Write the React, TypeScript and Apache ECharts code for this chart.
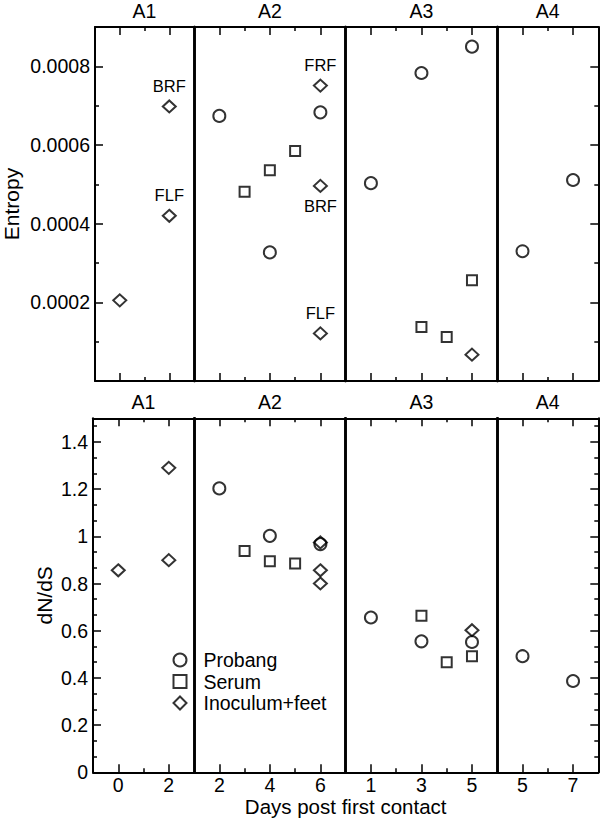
import React, { useEffect, useRef } from 'react';
import * as echarts from 'echarts';

// ---- groups / x axis ----
const groups = ['A1', 'A2', 'A3', 'A4'];
const groupMin = [-1, 1, 0, 4];
const groupMax = [3, 7, 6, 8];
const xMajor = [[0, 2], [2, 4, 6], [1, 3, 5], [5, 7]];
const xMinor = [[1], [3, 5], [2, 4], [6]];
const xTitle = 'Days post first contact';

const seriesNames = ['Probang', 'Serum', 'Inoculum+feet'];

// ---- Entropy panel ----
const entYMajor = [0.0002, 0.0004, 0.0006, 0.0008];
const entYMinor = [0.0001, 0.0003, 0.0005, 0.0007];
const entProbangDays = [[], [2, 4, 6], [1, 3, 5], [5, 7]];
const entProbangVals = [[], [0.000674, 0.000327, 0.000683], [0.000503, 0.000783, 0.00085], [0.00033, 0.000511]];
const entSerumDays = [[], [3, 4, 5], [3, 4, 5], []];
const entSerumVals = [[], [0.000481, 0.000536, 0.000585], [0.000137, 0.000112, 0.000256], []];
const entInocDays = [[0, 2, 2], [6, 6, 6], [5], []];
const entInocVals = [[0.000205, 0.000698, 0.00042], [0.000751, 0.000496, 0.000121], [0.000067], []];
const entInocTags = [['', 'BRF', 'FLF'], ['FRF', 'BRF', 'FLF'], [''], []];
const entInocTagPos = [['top', 'top', 'top'], ['top', 'bottom', 'top'], ['top'], []];

// ---- dN/dS panel ----
const dnYMajor = [0, 0.2, 0.4, 0.6, 0.8, 1, 1.2, 1.4];
const dnYMinor = [0.0667, 0.1333, 0.2667, 0.3333, 0.4667, 0.5333, 0.6667, 0.7333, 0.8667, 0.9333, 1.0667, 1.1333, 1.2667, 1.3333, 1.4667];
const dnProbangDays = [[], [2, 4, 6], [1, 3, 5], [5, 7]];
const dnProbangVals = [[], [1.203, 1.002, 0.967], [0.656, 0.555, 0.552], [0.492, 0.387]];
const dnSerumDays = [[], [3, 4, 5], [3, 4, 5], []];
const dnSerumVals = [[], [0.938, 0.894, 0.885], [0.663, 0.466, 0.492], []];
const dnInocDays = [[0, 2, 2], [6, 6, 6], [5], []];
const dnInocVals = [[0.856, 1.29, 0.899], [0.974, 0.856, 0.8], [0.602], []];

const FONT = '"Liberation Sans", Arial, Helvetica, sans-serif';
const PLOT_LEFT = 93;
const PLOT_RIGHT = 598.3;
const PANEL_H = 354;

function buildOption() {
  const totalUnits = groupMax.reduce((s, m, i) => s + (m - groupMin[i]), 0);
  const unit = (PLOT_RIGHT - PLOT_LEFT) / totalUnits;
  const grids: any[] = [];
  const xAxes: any[] = [];
  const yAxes: any[] = [];
  const series: any[] = [];

  const panels = [
    {
      top: 27, yMin: 0, yMax: 0.0009, yMajor: entYMajor, yMinor: entYMinor,
      fmt: (v: number) => v.toFixed(4), yName: 'Entropy', yNameGap: 73, showX: false,
      probD: entProbangDays, probV: entProbangVals, serD: entSerumDays, serV: entSerumVals,
      inD: entInocDays, inV: entInocVals, tags: entInocTags, tagPos: entInocTagPos,
    },
    {
      top: 418.3, yMin: 0, yMax: 1.5, yMajor: dnYMajor, yMinor: dnYMinor,
      fmt: (v: number) => String(Number(v.toFixed(1))), yName: 'dN/dS', yNameGap: 38, showX: true,
      probD: dnProbangDays, probV: dnProbangVals, serD: dnSerumDays, serV: dnSerumVals,
      inD: dnInocDays, inV: dnInocVals, tags: null as any, tagPos: null as any,
    },
  ];

  const black = '#000';
  const tickStyle = { color: black, width: 1.5 };

  panels.forEach((pn) => {
    let cum = 0;
    groups.forEach((gname, g) => {
      const span = groupMax[g] - groupMin[g];
      const gi = grids.length;
      grids.push({ left: PLOT_LEFT + cum * unit, width: span * unit, top: pn.top, height: PANEL_H });
      cum += span;
      const xb = { gridIndex: gi, type: 'value', min: groupMin[g], max: groupMax[g], splitLine: { show: false } };
      const xMain = xAxes.length;
      xAxes.push({
        ...xb, position: 'bottom',
        axisLine: { show: true, onZero: false, lineStyle: { color: black, width: 2 } },
        axisTick: { show: true, inside: true, length: 8, customValues: xMajor[g], lineStyle: tickStyle },
        axisLabel: {
          show: pn.showX, customValues: xMajor[g], color: black, fontSize: 19.5,
          fontFamily: FONT, margin: 4, lineHeight: 17,
        },
      });
      xAxes.push({
        ...xb, position: 'bottom',
        axisLine: { show: false, onZero: false },
        axisTick: { show: true, inside: true, length: 4, customValues: xMinor[g], lineStyle: tickStyle },
        axisLabel: { show: false },
      });
      xAxes.push({
        ...xb, position: 'top',
        axisLine: { show: true, onZero: false, lineStyle: { color: black, width: 2 } },
        axisTick: { show: true, inside: true, length: 8, customValues: xMajor[g], lineStyle: tickStyle },
        axisLabel: { show: false },
        name: gname, nameLocation: 'middle', nameGap: 6,
        nameTextStyle: { color: black, fontSize: 19.5, fontFamily: FONT, verticalAlign: 'bottom' },
      });
      xAxes.push({
        ...xb, position: 'top',
        axisLine: { show: false, onZero: false },
        axisTick: { show: true, inside: true, length: 4, customValues: xMinor[g], lineStyle: tickStyle },
        axisLabel: { show: false },
      });

      const yb = { gridIndex: gi, type: 'value', min: pn.yMin, max: pn.yMax, splitLine: { show: false } };
      const yMain = yAxes.length;
      const leftOuter = g === 0;
      const rightOuter = g === groups.length - 1;
      yAxes.push({
        ...yb, position: 'left',
        axisLine: { show: true, onZero: false, lineStyle: { color: black, width: leftOuter ? 2 : 2.6 } },
        axisTick: { show: leftOuter, inside: true, length: 8, customValues: pn.yMajor, lineStyle: tickStyle },
        axisLabel: {
          show: leftOuter, customValues: pn.yMajor, formatter: pn.fmt,
          color: black, fontSize: 19.5, fontFamily: FONT, margin: 5,
        },
        name: leftOuter ? pn.yName : '', nameLocation: 'middle', nameGap: pn.yNameGap,
        nameTextStyle: { color: black, fontSize: 21, fontFamily: FONT },
      });
      yAxes.push({
        ...yb, position: 'right',
        axisLine: { show: true, onZero: false, lineStyle: { color: black, width: rightOuter ? 2 : 2.6 } },
        axisTick: { show: rightOuter, inside: true, length: 8, customValues: pn.yMajor, lineStyle: tickStyle },
        axisLabel: { show: false },
      });
      if (leftOuter) {
        yAxes.push({
          ...yb, position: 'left', axisLine: { show: false, onZero: false },
          axisTick: { show: true, inside: true, length: 4, customValues: pn.yMinor, lineStyle: tickStyle },
          axisLabel: { show: false },
        });
      }
      if (rightOuter) {
        yAxes.push({
          ...yb, position: 'right', axisLine: { show: false, onZero: false },
          axisTick: { show: true, inside: true, length: 4, customValues: pn.yMinor, lineStyle: tickStyle },
          axisLabel: { show: false },
        });
      }

      const common = {
        type: 'scatter', xAxisIndex: xMain, yAxisIndex: yMain, silent: true,
        itemStyle: { color: 'transparent', borderColor: black, borderWidth: 2 },
      };
      if (pn.probD[g].length) {
        series.push({
          ...common, name: seriesNames[0], symbol: 'circle', symbolSize: 12,
          data: pn.probD[g].map((d: number, i: number) => [d, pn.probV[g][i]]),
        });
      }
      if (pn.serD[g].length) {
        series.push({
          ...common, name: seriesNames[1], symbol: 'rect', symbolSize: 10,
          data: pn.serD[g].map((d: number, i: number) => [d, pn.serV[g][i]]),
        });
      }
      if (pn.inD[g].length) {
        series.push({
          ...common, name: seriesNames[2], symbol: 'diamond', symbolSize: [13, 12],
          data: pn.inD[g].map((d: number, i: number) => {
            const tag = pn.tags ? pn.tags[g][i] : '';
            return {
              value: [d, pn.inV[g][i]],
              label: {
                show: !!tag, formatter: tag, position: pn.tagPos ? pn.tagPos[g][i] : 'top',
                distance: 5, color: '#000', opacity: 1, textBorderWidth: 0,
                fontSize: 16.5, fontFamily: FONT,
              },
            };
          }),
        });
      }
    });
  });

  return {
    animation: false,
    backgroundColor: '#fff',
    grid: grids,
    xAxis: xAxes,
    yAxis: yAxes,
    series,
    legend: {
      data: seriesNames, orient: 'vertical', left: 172.5, top: 650, padding: 0,
      itemWidth: 13, itemHeight: 13, itemGap: 1.5, selectedMode: false,
      textStyle: { color: black, fontSize: 19.5, fontFamily: FONT, padding: [0, 0, 0, 12] },
    },
    graphic: [
      {
        type: 'text', x: (PLOT_LEFT + PLOT_RIGHT) / 2, y: 806,
        style: { text: xTitle, fill: black, fontSize: 20.5, fontFamily: FONT, align: 'center', verticalAlign: 'middle' },
      },
    ],
  };
}

export default function App() {
  const ref = useRef<HTMLDivElement>(null);
  useEffect(() => {
    if (!ref.current) return;
    const chart = echarts.init(ref.current, undefined, { renderer: 'svg' });
    chart.setOption(buildOption() as any);
    return () => chart.dispose();
  }, []);
  return (
    <div
      ref={ref}
      style={{ position: 'fixed', left: 0, top: 0, width: 600, height: 818, background: '#fff' }}
    />
  );
}
